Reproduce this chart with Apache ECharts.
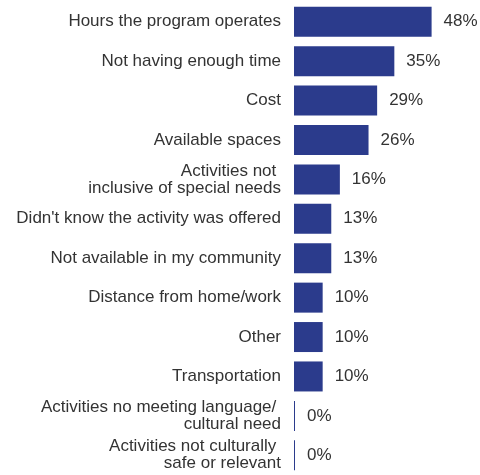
<!DOCTYPE html>
<html>
<head>
<meta charset="utf-8">
<script src="https://cdn.jsdelivr.net/npm/echarts@6/dist/echarts.min.js"></script>
<style>
  html, body { margin: 0; padding: 0; background: #fff; }
  #chart { width: 480px; height: 475px; }
</style>
</head>
<body>
<div id="chart"></div>
<script>
// Reasons given for not using the program, share of respondents (%)
const categories = [
  'Hours the program operates',
  'Not having enough time',
  'Cost',
  'Available spaces',
  'Activities not \ninclusive of special needs',
  "Didn't know the activity was offered",
  'Not available in my community',
  'Distance from home/work',
  'Other',
  'Transportation',
  'Activities no meeting language/ \ncultural need',
  'Activities not culturally \nsafe or relevant'
];
const percentages = [48, 35, 29, 26, 16, 13, 13, 10, 10, 10, 0, 0];

const FONT = '"Liberation Sans", Arial, sans-serif';

const chart = echarts.init(document.getElementById('chart'), null, { renderer: 'canvas' });

chart.setOption({
  animation: false,
  backgroundColor: '#ffffff',
  grid: { left: 294, right: 14, top: 2, bottom: 0, containLabel: false },
  xAxis: {
    type: 'value',
    min: 0,
    max: 60,
    show: false
  },
  yAxis: {
    type: 'category',
    data: categories,
    inverse: true,
    axisLine: { show: false },
    axisTick: { show: false },
    splitLine: { show: false },
    axisLabel: {
      margin: 13,
      color: '#333333',
      fontFamily: FONT,
      fontSize: 17,
      lineHeight: 17,
      align: 'right'
    }
  },
  series: [{
    type: 'bar',
    data: percentages,
    barWidth: 30,
    barMinHeight: 1,
    itemStyle: { color: '#2b3b8c' },
    label: {
      show: true,
      position: 'right',
      distance: 12,
      color: '#333333',
      fontFamily: FONT,
      fontSize: 17,
      formatter: p => p.value + '%'
    }
  }]
});
</script>
</body>
</html>
